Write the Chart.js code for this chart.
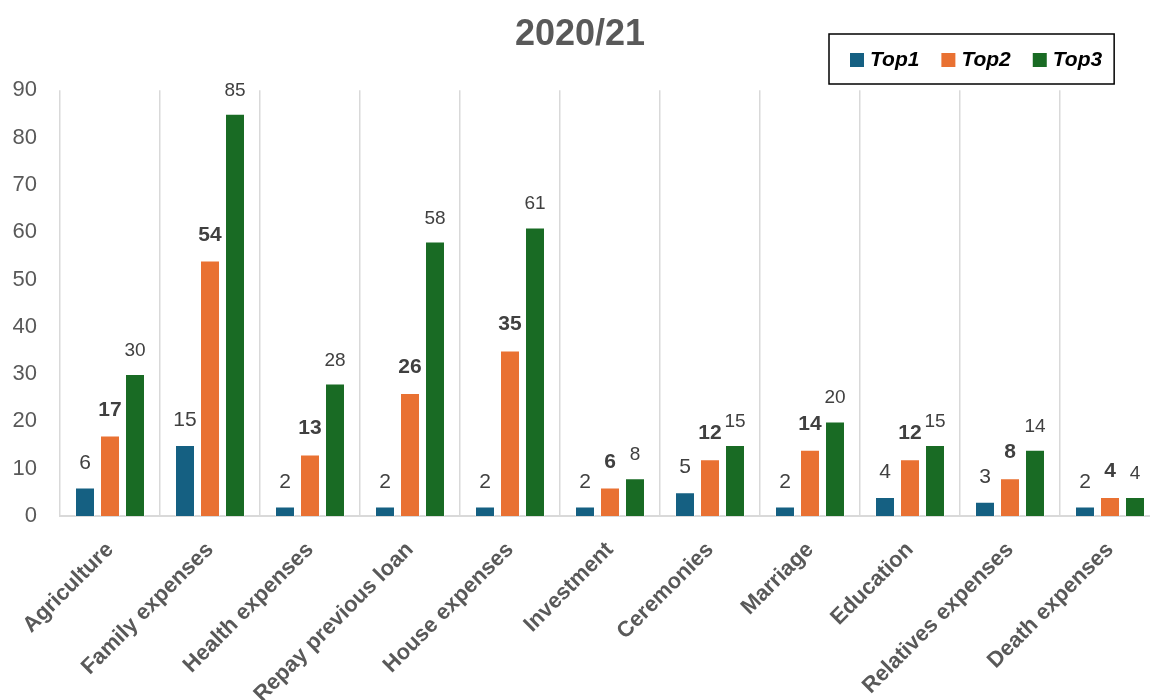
<!DOCTYPE html>
<html>
<head>
<meta charset="utf-8">
<title>2020/21</title>
<script src="https://cdn.jsdelivr.net/npm/chart.js@4.4.1/dist/chart.umd.min.js"></script>
<style>
  html, body { margin: 0; padding: 0; background: #fff; overflow: hidden; }
  #frame { width: 1150px; height: 700px; overflow: hidden; }
  #wrap { width: 1170px; height: 700px; }
</style>
</head>
<body>
<div id="frame"><div id="wrap"><canvas id="usesChart"></canvas></div></div>
<script>
// Chart data
const categories = ['Agriculture', 'Family expenses', 'Health expenses', 'Repay previous loan',
  'House expenses', 'Investment', 'Ceremonies', 'Marriage', 'Education',
  'Relatives expenses', 'Death expenses'];
const top1 = [6, 15, 2, 2, 2, 2, 5, 2, 4, 3, 2];
const top2 = [17, 54, 13, 26, 35, 6, 12, 14, 12, 8, 4];
const top3 = [30, 85, 28, 58, 61, 8, 15, 20, 15, 14, 4];
const yTicks = [0, 10, 20, 30, 40, 50, 60, 70, 80, 90];

const FONT = "'Liberation Sans', Arial, sans-serif";
const colors = ['#156082', '#E97132', '#196B24'];

// Value labels above each bar (Top2 bold, Top3 a bit smaller)
const labelStyles = [
  { font: '21px ' + FONT, gap: 19 },
  { font: 'bold 21px ' + FONT, gap: 20 },
  { font: '19px ' + FONT, gap: 18 }
];

const valueLabels = {
  id: 'valueLabels',
  afterDatasetsDraw(chart) {
    const c = chart.ctx;
    c.save();
    c.fillStyle = '#404040';
    c.textAlign = 'center';
    c.textBaseline = 'alphabetic';
    chart.data.datasets.forEach((ds, i) => {
      const meta = chart.getDatasetMeta(i);
      c.font = labelStyles[i].font;
      meta.data.forEach((bar, j) => {
        const { x, y } = bar.getProps(['x', 'y'], true);
        c.fillText(String(ds.data[j]), x, y - labelStyles[i].gap);
      });
    });
    c.restore();
  }
};

// Boxed legend in the top right corner
const boxLegend = {
  id: 'boxLegend',
  afterDraw(chart) {
    const c = chart.ctx;
    const left = 829, top = 34, height = 50;
    const midY = top + height / 2;
    c.save();
    c.font = 'italic bold 21px ' + FONT;
    c.textBaseline = 'middle';
    let x = left + 21;
    chart.data.datasets.forEach((ds, i) => {
      c.fillStyle = ds.backgroundColor;
      c.fillRect(x, midY - 6, 14, 14);
      x += 20;
      c.fillStyle = '#000';
      c.fillText(ds.label, x, midY + 1);
      x += c.measureText(ds.label).width + 22;
    });
    const right = x - 22 + 12;
    c.strokeStyle = '#000';
    c.lineWidth = 1.5;
    c.strokeRect(left, top, right - left, height);
    c.restore();
  }
};

const ctx = document.getElementById('usesChart').getContext('2d');
const chart = new Chart(ctx, {
  type: 'bar',
  data: {
    labels: categories,
    datasets: [
      { label: 'Top1', data: top1, backgroundColor: colors[0] },
      { label: 'Top2', data: top2, backgroundColor: colors[1] },
      { label: 'Top3', data: top3, backgroundColor: colors[2] }
    ]
  },
  options: {
    responsive: true,
    maintainAspectRatio: false,
    animation: false,
    datasets: {
      bar: {
        categoryPercentage: 0.75,
        barPercentage: 0.8,
        borderWidth: 1,
        borderColor: 'rgba(255, 255, 255, 0.5)'
      }
    },
    layout: { padding: { left: 0, right: 10, top: 0, bottom: 0 } },
    plugins: {
      legend: { display: false },
      tooltip: { enabled: false },
      title: {
        display: true,
        text: '2020/21',
        color: '#595959',
        font: { family: FONT, size: 36, weight: 'bold' },
        padding: { top: 13, bottom: 34 }
      }
    },
    scales: {
      x: {
        grid: { display: true, offset: true, color: '#d9d9d9', lineWidth: 1.5, drawTicks: false },
        border: { display: true, color: '#d9d9d9', width: 2 },
        ticks: {
          color: '#595959',
          font: { family: FONT, size: 22, weight: 'bold' },
          minRotation: 45,
          maxRotation: 45,
          padding: 21,
          autoSkip: false
        },
        afterFit(scale) { scale.height = 184; }
      },
      y: {
        min: 0,
        max: 90,
        grid: { display: false },
        border: { display: false },
        afterBuildTicks(scale) { scale.ticks = yTicks.map(v => ({ value: v })); },
        ticks: {
          color: '#595959',
          font: { family: FONT, size: 22 },
          padding: 15
        },
        afterFit(scale) { scale.width = 60; }
      }
    }
  },
  plugins: [valueLabels, boxLegend]
});
</script>
</body>
</html>
